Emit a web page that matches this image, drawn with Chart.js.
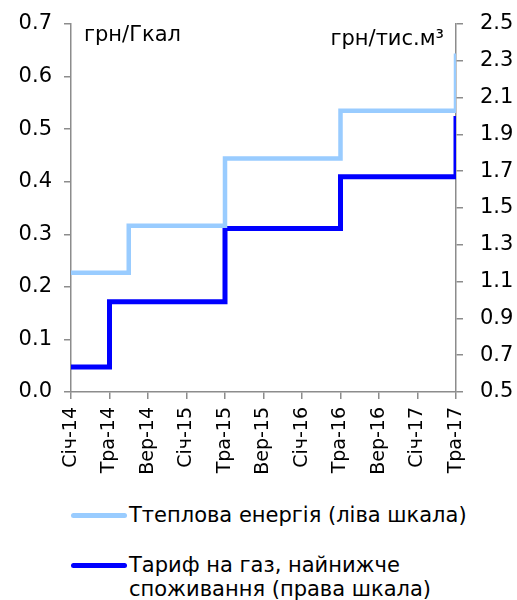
<!DOCTYPE html>
<html>
<head>
<meta charset="utf-8">
<script src="https://cdn.jsdelivr.net/npm/chart.js@4/dist/chart.umd.min.js"></script>
<style>
  body { margin: 0; background: #fff; font-family: 'DejaVu Sans', Verdana, sans-serif; }
  #wrap { position: relative; width: 517px; height: 600px; }
  #chart { position: absolute; left: 0; top: 0; }
  .swatch { position: absolute; width: 56px; height: 5px; border-radius: 3px; }
  .label { position: absolute; font-size: 21px; line-height: 24px; color: #000; white-space: nowrap; }
</style>
</head>
<body>
<div id="wrap">
  <canvas id="chart" width="517" height="490"></canvas>
  <div class="swatch" style="left:71px; top:513px; background:#99ccff"></div>
  <div class="label" style="left:129px; top:503px">Ттеплова енергія (ліва шкала)</div>
  <div class="swatch" style="left:71px; top:563px; background:#0000ff"></div>
  <div class="label" style="left:129px; top:553px">Тариф на газ, найнижче<br>споживання (права шкала)</div>
</div>
<script>
// monthly, Січ-14 .. Тра-17
const months = [
  'Січ-14', 'Лют-14', 'Бер-14', 'Кві-14', 'Тра-14', 'Чер-14', 'Лип-14', 'Сер-14', 'Вер-14', 'Жов-14', 'Лис-14', 'Гру-14',
  'Січ-15', 'Лют-15', 'Бер-15', 'Кві-15', 'Тра-15', 'Чер-15', 'Лип-15', 'Сер-15', 'Вер-15', 'Жов-15', 'Лис-15', 'Гру-15',
  'Січ-16', 'Лют-16', 'Бер-16', 'Кві-16', 'Тра-16', 'Чер-16', 'Лип-16', 'Сер-16', 'Вер-16', 'Жов-16', 'Лис-16', 'Гру-16',
  'Січ-17', 'Лют-17', 'Бер-17', 'Кві-17', 'Тра-17',
]

// грн/Гкал, left scale
const heatValues = [
  0.227, 0.227, 0.227, 0.227, 0.227, 0.227, 0.316, 0.316, 0.316, 0.316, 0.316, 0.316,
  0.316, 0.316, 0.316, 0.316, 0.444, 0.444, 0.444, 0.444, 0.444, 0.444, 0.444, 0.444,
  0.444, 0.444, 0.444, 0.444, 0.535, 0.535, 0.535, 0.535, 0.535, 0.535, 0.535, 0.535,
  0.535, 0.535, 0.535, 0.535, 0.644,
]

// грн/тис.м3, right scale
const gasValues = [
  0.636, 0.636, 0.636, 0.636, 0.99, 0.99, 0.99, 0.99, 0.99, 0.99, 0.99, 0.99,
  0.99, 0.99, 0.99, 0.99, 1.388, 1.388, 1.388, 1.388, 1.388, 1.388, 1.388, 1.388,
  1.388, 1.388, 1.388, 1.388, 1.67, 1.67, 1.67, 1.67, 1.67, 1.67, 1.67, 1.67,
  1.67, 1.67, 1.67, 1.67, 2.0,
]

const leftTicks = { min: 0, max: 0.7, step: 0.1 }
const rightTicks = { min: 0.5, max: 2.5, step: 0.2 }
const tickEvery = 4

const FONT = "'DejaVu Sans', Verdana, sans-serif"
const AXIS_COLOR = '#8c8c8c'

function toPoints(values) {
  return values.map((v, i) => ({ x: i, y: v }))
}

const unitTitles = {
  id: 'unitTitles',
  afterDraw(chart) {
    const ctx = chart.ctx
    ctx.save()
    ctx.fillStyle = '#000'
    ctx.font = `21px ${FONT}`
    ctx.textBaseline = 'alphabetic'
    ctx.textAlign = 'left'
    ctx.fillText('грн/Гкал', 84, 41)
    ctx.textAlign = 'right'
    ctx.fillText('грн/тис.м³', 444, 45)
    ctx.restore()
  },
}

function axisGrid() {
  return {
    drawOnChartArea: false,
    drawTicks: true,
    tickLength: 7,
    color: AXIS_COLOR,
    lineWidth: 1.5,
  }
}

// fixed axis width, and no extra label overhang above/below the plot
function fixWidth(w) {
  return scale => {
    scale.width = w
    scale.paddingTop = 0
    scale.paddingBottom = 0
  }
}

new Chart(document.getElementById('chart'), {
  type: 'line',
  data: {
    datasets: [
      {
        label: 'Ттеплова енергія (ліва шкала)',
        data: toPoints(heatValues),
        yAxisID: 'y',
        borderColor: '#99ccff',
        borderWidth: 4.5,
        stepped: true,
        pointRadius: 0,
        fill: false,
      },
      {
        label: 'Тариф на газ, найнижче споживання (права шкала)',
        data: toPoints(gasValues),
        yAxisID: 'y1',
        borderColor: '#0000ff',
        borderWidth: 5,
        stepped: true,
        pointRadius: 0,
        fill: false,
      },
    ],
  },
  options: {
    responsive: false,
    animation: false,
    layout: { padding: { top: 24, left: 0, right: 0, bottom: 0 } },
    plugins: {
      legend: { display: false },
      tooltip: { enabled: false },
    },
    scales: {
      x: {
        type: 'linear',
        min: 0,
        max: months.length - 1,
        grid: axisGrid(),
        border: { color: AXIS_COLOR, width: 1.5 },
        afterFit(scale) { scale.height = 98 },
        ticks: {
          stepSize: tickEvery,
          autoSkip: false,
          minRotation: 90,
          maxRotation: 90,
          padding: 8,
          color: '#000',
          font: { family: FONT, size: 19 },
          callback: v => months[v] ?? '',
        },
      },
      y: {
        position: 'left',
        min: leftTicks.min,
        max: leftTicks.max,
        grid: axisGrid(),
        border: { color: AXIS_COLOR, width: 1.5 },
        afterFit: fixWidth(71),
        ticks: {
          stepSize: leftTicks.step,
          padding: 12,
          color: '#000',
          font: { family: FONT, size: 21 },
          callback: v => v.toFixed(1),
        },
      },
      y1: {
        position: 'right',
        min: rightTicks.min,
        max: rightTicks.max,
        grid: axisGrid(),
        border: { color: AXIS_COLOR, width: 1.5 },
        afterFit: fixWidth(61),
        ticks: {
          stepSize: rightTicks.step,
          padding: 17,
          color: '#000',
          font: { family: FONT, size: 21 },
          callback: v => v.toFixed(1),
        },
      },
    },
  },
  plugins: [unitTitles],
})
</script>
</body>
</html>
